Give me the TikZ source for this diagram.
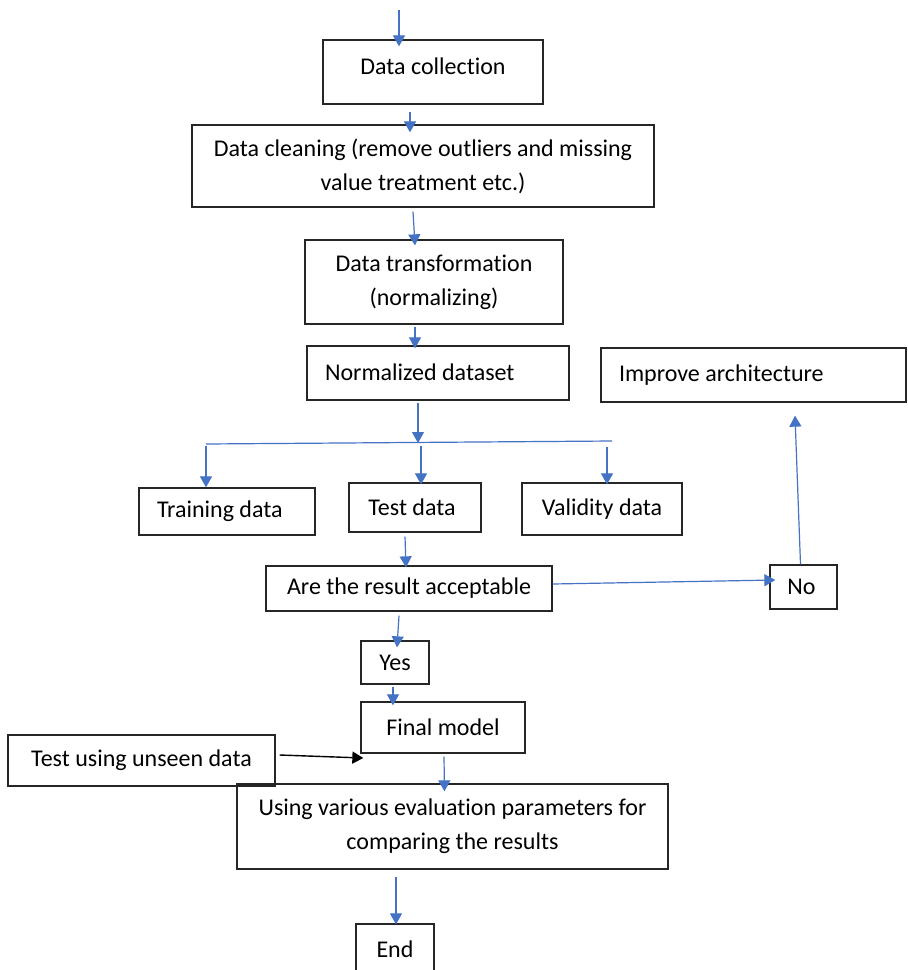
\documentclass[tikz,border=0pt]{standalone}
\usepackage{fontspec}
\setmainfont{Carlito}[Ligatures=NoCommon]
\usetikzlibrary{arrows.meta,calc}
\definecolor{arrblue}{HTML}{4472C4}
\tikzset{
  box/.style={draw=black!85, line width=0.65pt, rectangle, inner sep=0pt, align=center,
    font=\fontsize{12}{17}\selectfont},
  arr/.style={draw=arrblue, line width=0.6pt, -{Triangle[length=5.5pt,width=6pt]}},
  barr/.style={draw=black, line width=0.7pt, -{Triangle[length=5.5pt,width=6pt]}},
  bline/.style={draw=arrblue, line width=0.6pt}
}
% [options]{name}{x1}{y1}{x2}{y2}{text}
\newcommand\mkbox[7][]{%
  \node[box, minimum width={(#5-#3)*0.5pt}, minimum height={(#6-#4)*0.5pt}, #1]
    (#2) at ({(#3+#5)/2},{(#4+#6)/2}) {#7};}
\begin{document}
\begin{tikzpicture}[x=0.5pt,y=-0.5pt]
\clip (0,0) rectangle (907,970);
\fill[white] (0,0) rectangle (907,970);
% boxes
\mkbox{dc}{323}{40}{543}{104}{\raisebox{5.5pt}{Data collection}}
\mkbox{clean}{192}{125}{654}{207}{Data cleaning (remove outliers and missing\\value treatment etc.)}
\mkbox{trans}{305}{240}{563}{324}{Data transformation\\(normalizing)}
\mkbox{norm}{307}{346}{569}{400}{\raisebox{1pt}{\makebox[113pt][l]{Normalized dataset}}}
\mkbox{imp}{601}{348}{906}{402}{\raisebox{1pt}{\makebox[134.5pt][l]{Improve architecture}}}
\mkbox{train}{139}{488}{315}{535}{\raisebox{-1pt}{\makebox[70pt][l]{Training data}}}
\mkbox{test}{349}{483}{481}{532}{\hspace*{-3pt}Test data}
\mkbox{valid}{522}{483}{682}{535}{Validity data}
\mkbox{acc}{266}{566}{552}{611}{\raisebox{-1pt}{Are the result acceptable}}
\mkbox{no}{770}{565}{837}{609}{\raisebox{-1.5pt}{No}\hspace*{2pt}}
\mkbox{yes}{361}{641}{429}{684}{\raisebox{-2pt}{Yes}}
\mkbox{final}{361}{702}{525}{753}{Final model}
\mkbox{unseen}{8}{735}{275}{786}{Test using unseen data}
\mkbox{eval}{237}{784}{668}{869}{Using various evaluation parameters for\\comparing the results}
\mkbox{end}{356}{924}{434}{976}{\raisebox{1pt}{End}}
% connectors
\coordinate (top) at (399,10);
\draw[arr] (top) -- ($(dc.north)+(-34,7)$);
\draw[arr] ($(dc.south)+(-23,7)$) -- ($(clean.north)+(-13,8)$);
\draw[arr] ($(clean.south)+(-10,4)$) -- ($(trans.north)+(-19,6)$);
\draw[arr] ($(trans.south)+(-19,2)$) -- ($(norm.north)+(-23,3)$);
\coordinate (bm) at (418,443);
\coordinate (bl) at (206,444);
\coordinate (br) at (612,441);
\draw[arr] ($(norm.south)+(-20,2)$) -- (bm);
\draw[bline] (bl) -- (br);
\draw[arr] ($(bl)+(0,2)$) -- ($(train.north)+(-21,0)$);
\draw[arr] ($(bm)+(3,3)$) -- ($(test.north)+(6,2)$);
\draw[arr] ($(br)+(-5,6)$) -- ($(valid.north)+(5,2)$);
\draw[arr] ($(test.south)+(-10,4)$) -- ($(acc.north)+(-3,2)$);
\draw[arr] ($(acc.east)+(0,-4.5)$) -- ($(no.west)+(6,-7)$);
\draw[arr] ($(no.north)+(-3,0)$) -- ($(imp.south)+(41.5,13)$);
\draw[arr] ($(acc.south)+(-10,4)$) -- ($(yes.north)+(2,7)$);
\draw[arr] ($(yes.south)+(-2,2)$) -- ($(final.north)+(-50,4)$);
\draw[barr] ($(unseen.east)+(4,-5.5)$) -- ($(final.west)+(3,30.5)$);
\draw[arr] ($(final.south)+(1,3)$) -- ($(eval.north)+(-8,8)$);
\draw[arr] ($(eval.south)+(-56.5,7)$) -- ($(end.north)+(1,1)$);
\end{tikzpicture}
\end{document}
